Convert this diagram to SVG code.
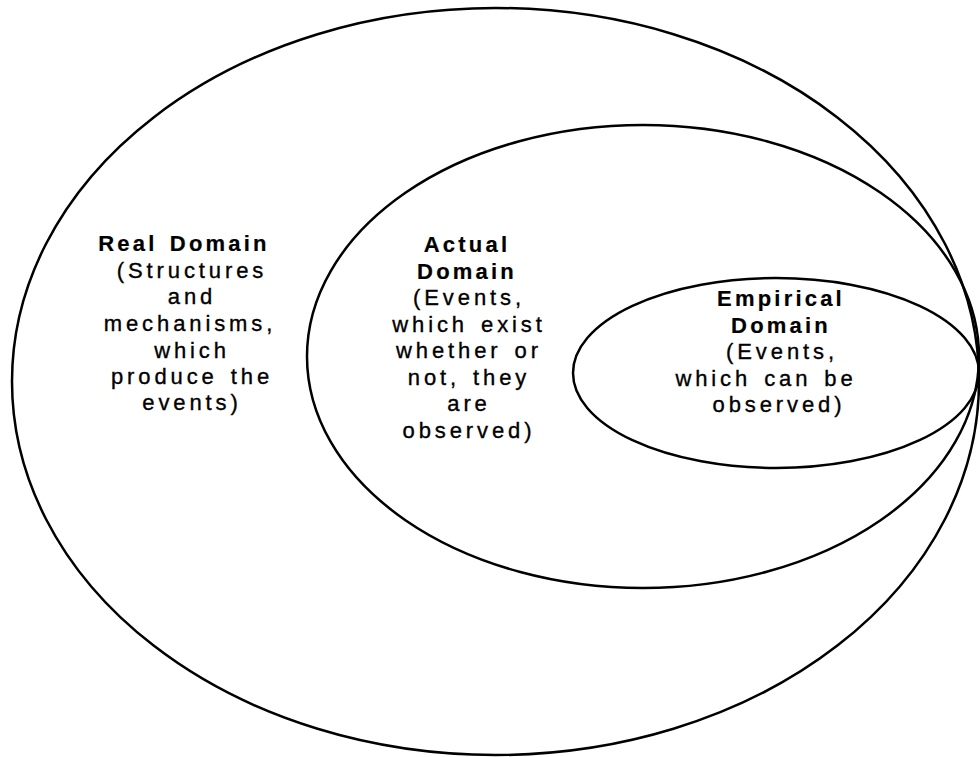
<svg xmlns="http://www.w3.org/2000/svg" width="980" height="757" viewBox="0 0 980 757">
  <style>
    .domain { fill: none; stroke: #000; stroke-width: 2.5; }
    text { font-family: "Liberation Sans", Arial, sans-serif; font-size: 22px; letter-spacing: 3.9px; word-spacing: 3px; text-anchor: middle; fill: #000; stroke: #000; stroke-width: 0.35; }
    .title { font-weight: bold; letter-spacing: 3.2px; stroke-width: 0.2; }
  </style>
  <rect width="980" height="757" fill="#fff"/>

  <g id="real-domain">
    <ellipse class="domain" cx="495.5" cy="381.5" rx="483.5" ry="373.5"/>
    <text x="184" y="251" class="title">Real Domain</text>
    <text x="192" y="278">(Structures</text>
    <text x="192" y="304">and</text>
    <text x="190" y="331">mechanisms,</text>
    <text x="192" y="358">which</text>
    <text x="192" y="384">produce the</text>
    <text x="192" y="410">events)</text>
  </g>

  <g id="actual-domain">
    <ellipse class="domain" cx="643" cy="356.5" rx="336" ry="231.5"/>
    <text x="467" y="252" class="title">Actual</text>
    <text x="467" y="279" class="title">Domain</text>
    <text x="469" y="305">(Events,</text>
    <text x="469" y="332">which exist</text>
    <text x="469" y="358">whether or</text>
    <text x="469" y="385">not, they</text>
    <text x="469" y="411">are</text>
    <text x="469" y="438">observed)</text>
  </g>

  <g id="empirical-domain">
    <ellipse class="domain" cx="776" cy="373" rx="203" ry="95"/>
    <text x="781" y="306" class="title">Empirical</text>
    <text x="781" y="333" class="title">Domain</text>
    <text x="782" y="359">(Events,</text>
    <text x="766" y="386">which can be</text>
    <text x="779" y="412">observed)</text>
  </g>
</svg>
